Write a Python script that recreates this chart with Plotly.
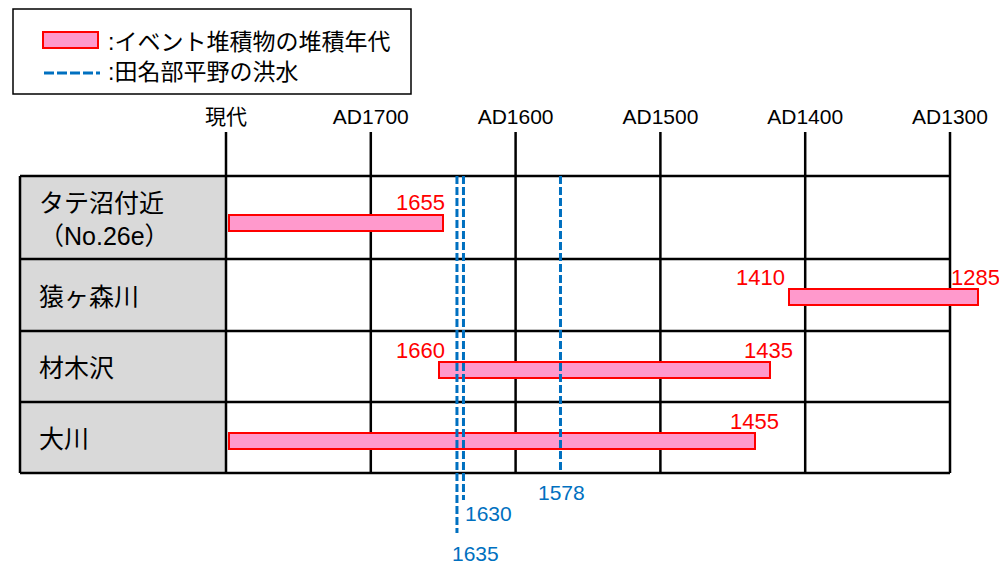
import plotly.graph_objects as go

# ---------------- data ----------------
sites = ["タテ沼付近<br>（No.26e）", "猿ヶ森川", "材木沢", "大川"]
bar_young = [1798, 1411, 1653, 1798]      # young (left) end of each bar, years
bar_old = [1650, 1281, 1424, 1435]        # old (right) end of each bar, years
label_young = ["", "1410", "1660", ""]
label_old = ["1655", "1285", "1435", "1455"]
flood_pos = [1640.5, 1636, 1569]          # drawn positions of flood lines, years
flood_labels = ["1635", "1630", "1578"]
tick_years = [1800, 1700, 1600, 1500, 1400, 1300]
tick_labels = ["現代", "AD1700", "AD1600", "AD1500", "AD1400", "AD1300"]
legend_texts = [":イベント堆積物の堆積年代", ":田名部平野の洪水"]

# ---------------- layout helpers ----------------
# (screen coordinates include the 8px page margin of the html body)
W, H = 1007, 565
OFF = 8
TOP = 132                      # screen y of plot top
X_ORIGIN_PX, PX_PER_YEAR = 226, 1.448
def px_to_year(px):
    return 1800 - (px - X_ORIGIN_PX) / PX_PER_YEAR
def px_paper(px):
    return (px - OFF) / W
def py_paper(py):
    return (H + OFF - py) / (H + OFF - TOP)

row_edges = [176, 259, 331, 402, 473]
bar_centers = [222.5, 297, 370, 441]
label_centers = [219, 297, 368, 439]
BAR_H = 16
flood_bottom = [533, 500, 471]
flood_label_y = [553, 513, 492]
flood_anchor = [("left", -7), ("left", 0), ("center", 1)]
old_anchor = [("right", 4), ("center", -2), ("center", -2), ("center", 0)]
young_anchor = [None, ("right", -2), ("right", 8), None]

PINK, RED, BLUE, GRAY = "#FF99CC", "#FF0000", "#0070C0", "#D9D9D9"
FONT = "Liberation Sans, Arial, Noto Sans CJK JP, sans-serif"

fig = go.Figure()

# bars
fig.add_trace(go.Bar(
    orientation="h",
    y=bar_centers,
    base=bar_young,
    x=[o - y for o, y in zip(bar_old, bar_young)],
    width=BAR_H,
    marker=dict(color=PINK, line=dict(color=RED, width=2)),
    showlegend=False, hoverinfo="skip",
))

# flood lines
for yr, yb in zip(flood_pos, flood_bottom):
    fig.add_trace(go.Scatter(
        x=[yr, yr], y=[row_edges[0], yb], mode="lines",
        line=dict(color=BLUE, width=3, dash="8px,3px"),
        showlegend=False, hoverinfo="skip",
    ))

shapes = []
# gray label column
shapes.append(dict(type="rect", xref="x", yref="y", x0=px_to_year(20), x1=1800,
                   y0=row_edges[0], y1=row_edges[-1], fillcolor=GRAY,
                   line=dict(width=0), layer="below"))
# vertical grid lines
for t in tick_years:
    shapes.append(dict(type="line", xref="x", yref="y", x0=t, x1=t, y0=TOP, y1=row_edges[-1],
                       line=dict(color="black", width=2.5), layer="below"))
shapes.append(dict(type="line", xref="x", yref="y", x0=px_to_year(20), x1=px_to_year(20),
                   y0=row_edges[0], y1=row_edges[-1], line=dict(color="black", width=2.5), layer="below"))
# horizontal row lines
for e in row_edges:
    shapes.append(dict(type="line", xref="x", yref="y", x0=px_to_year(20), x1=1300, y0=e, y1=e,
                       line=dict(color="black", width=2.5), layer="below"))

# legend (paper coords)
shapes.append(dict(type="rect", xref="paper", yref="paper", x0=px_paper(13), x1=px_paper(411),
                   y0=py_paper(94), y1=py_paper(9), line=dict(color="black", width=1.5),
                   fillcolor="white"))
shapes.append(dict(type="rect", xref="paper", yref="paper", x0=px_paper(43), x1=px_paper(98),
                   y0=py_paper(48), y1=py_paper(32), line=dict(color=RED, width=2),
                   fillcolor=PINK))
shapes.append(dict(type="line", xref="paper", yref="paper", x0=px_paper(44), x1=px_paper(100),
                   y0=py_paper(73), y1=py_paper(73), line=dict(color=BLUE, width=3, dash="10px,3px")))

annotations = []
for txt, yc in zip(legend_texts, [42, 72]):
    annotations.append(dict(text=txt, xref="paper", yref="paper", x=px_paper(106), y=py_paper(yc),
                            xanchor="left", yanchor="middle", showarrow=False,
                            font=dict(size=23, color="black", family=FONT)))
# row labels
for s, yc in zip(sites, label_centers):
    annotations.append(dict(text=s, xref="paper", yref="y", x=px_paper(37), y=yc,
                            xanchor="left", yanchor="middle", align="left", showarrow=False,
                            font=dict(size=25, color="black", family=FONT)))
# bar value labels
for i in range(len(sites)):
    top = bar_centers[i] - BAR_H / 2
    if label_old[i]:
        a, sh = old_anchor[i]
        annotations.append(dict(text=label_old[i], x=bar_old[i], y=top - 12, xref="x", yref="y",
                                xanchor=a, xshift=sh, yanchor="middle", showarrow=False,
                                font=dict(size=22, color=RED, family=FONT)))
    if label_young[i]:
        a, sh = young_anchor[i]
        annotations.append(dict(text=label_young[i], x=bar_young[i], y=top - 12, xref="x", yref="y",
                                xanchor=a, xshift=sh, yanchor="middle", showarrow=False,
                                font=dict(size=22, color=RED, family=FONT)))
# flood labels
for yr, lab, ly, (a, sh) in zip(flood_pos, flood_labels, flood_label_y, flood_anchor):
    annotations.append(dict(text=lab, x=yr, y=ly, xref="x", yref="y", xanchor=a, xshift=sh,
                            yanchor="middle", showarrow=False,
                            font=dict(size=21, color=BLUE, family=FONT)))

fig.update_layout(
    width=W, height=H,
    margin=dict(l=0, r=0, t=TOP - OFF, b=0, pad=0),
    paper_bgcolor="white", plot_bgcolor="white",
    font=dict(family=FONT, color="black"),
    shapes=shapes, annotations=annotations,
    bargap=0,
    xaxis=dict(range=[px_to_year(OFF), px_to_year(W + OFF)], side="top", tickvals=tick_years,
               ticktext=tick_labels, tickfont=dict(size=21, color="black", family=FONT),
               ticklabelstandoff=3,
               showgrid=False, zeroline=False, showline=False, ticks="", automargin=False,
               fixedrange=True),
    yaxis=dict(range=[H + OFF, TOP], visible=False, fixedrange=True),
    showlegend=False,
)

fig.write_html("out.html")
